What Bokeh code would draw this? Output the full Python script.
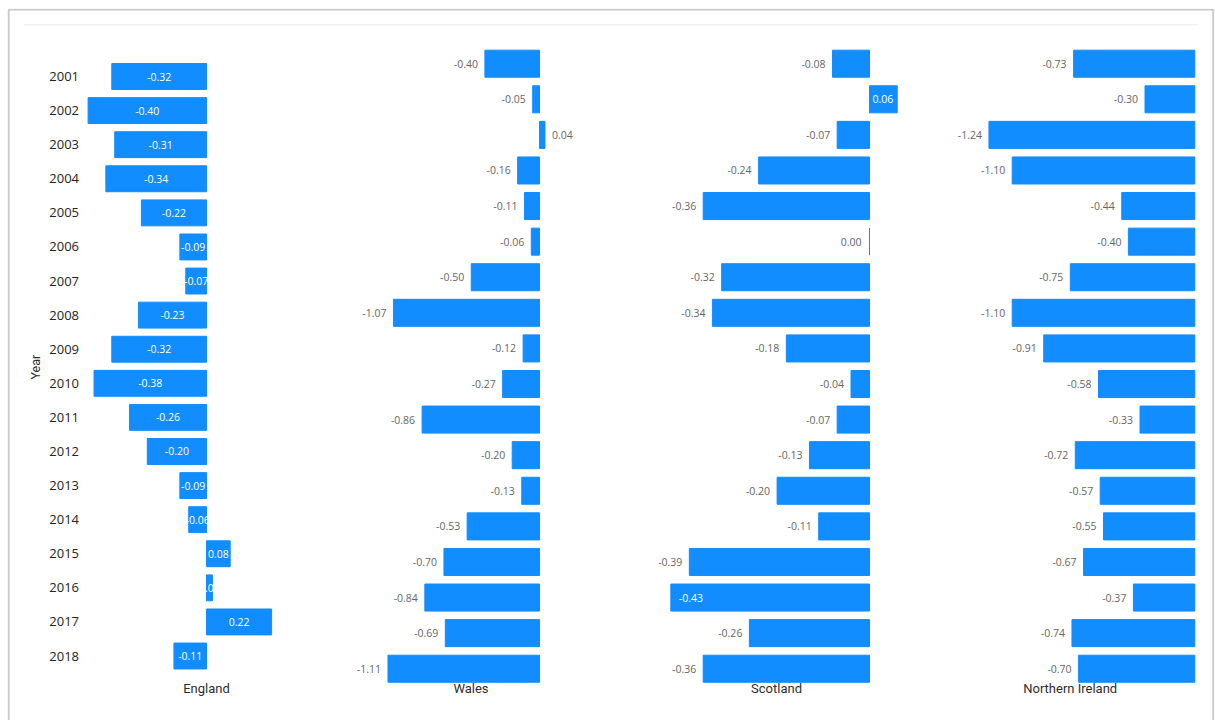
import math

from bokeh.core.properties import value
from bokeh.embed import file_html
from bokeh.models import ColumnDataSource, Range1d
from bokeh.plotting import figure
from bokeh.resources import INLINE

# ---- data -----------------------------------------------------------------
years = list(range(2001, 2019))

england = [-0.32, -0.40, -0.31, -0.34, -0.22, -0.09, -0.07, -0.23, -0.32,
           -0.38, -0.26, -0.20, -0.09, -0.06, 0.08, 0.02, 0.22, -0.11]
wales = [-0.40, -0.05, 0.04, -0.16, -0.11, -0.06, -0.50, -1.07, -0.12,
         -0.27, -0.86, -0.20, -0.13, -0.53, -0.70, -0.84, -0.69, -1.11]
scotland = [-0.08, 0.06, -0.07, -0.24, -0.36, 0.00, -0.32, -0.34, -0.18,
            -0.04, -0.07, -0.13, -0.20, -0.11, -0.39, -0.43, -0.26, -0.36]
northern_ireland = [-0.73, -0.30, -1.24, -1.10, -0.44, -0.40, -0.75, -1.10, -0.91,
                    -0.58, -0.33, -0.72, -0.57, -0.55, -0.67, -0.37, -0.74, -0.70]

nations = ["England", "Wales", "Scotland", "Northern Ireland"]
series = [england, wales, scotland, northern_ireland]

# ---- styling / layout -----------------------------------------------------
W, H = 1215, 720
TOP = 8                      # blank strip above the frame
BLUE = "#118DFF"
LABEL_GREY = "#666666"
TEXT_DARK = "#252423"
TITLE_GREY = "#2E2E2E"
LABEL_FONT = "Open Sans"
TITLE_FONT = "Roboto"
BAR_FRACTION = 0.76
LABEL_GAP = 7                # px between bar end and an outside label

# per panel: zero position (px), pixels per unit, panel extent (px),
# title centre (px), centre of the first row (px), row pitch (px), label mode
panel_layout = [
    dict(key="eng", zero=206.0, ppu=296.0, lo=85, hi=330, title_x=206.0,
         first_row=76.0, pitch=34.09, mode="center"),
    dict(key="wal", zero=539.0, ppu=136.5, lo=340, hi=600, title_x=470.5,
         first_row=63.2, pitch=35.59, mode="outside"),
    dict(key="sco", zero=869.0, ppu=462.0, lo=650, hi=900, title_x=776.0,
         first_row=63.2, pitch=35.59, mode="outside"),
    dict(key="ni", zero=1194.3, ppu=166.0, lo=945, hi=1205, title_x=1069.7,
         first_row=63.2, pitch=35.59, mode="outside"),
]
TITLE_Y = 688.3

p = figure(
    width=W, height=H,
    x_range=Range1d(0, W), y_range=Range1d(H, TOP),
    min_border_left=0, min_border_right=0, min_border_top=TOP, min_border_bottom=0,
    x_axis_location=None, y_axis_location=None,
    toolbar_location=None, output_backend="svg", title=None,
)
p.grid.visible = False
p.outline_line_color = None
p.background_fill_color = "white"
p.border_fill_color = "white"

# card border and the thin header rule
p.line(x=[8.2, 8.2, 1212.7, 1212.7], y=[H, 9.2, 9.2, H], line_color="#C8C8C8", line_width=1.8)
p.line(x=[23, 1197], y=[24.3, 24.3], line_color="#EBEBEB", line_width=1)

# every panel gets its own value axis and its own row placement
x_ranges, y_ranges = {}, {}
for pl in panel_layout:
    x_ranges[pl["key"]] = Range1d((0 - pl["zero"]) / pl["ppu"], (W - pl["zero"]) / pl["ppu"])
    first = years[0]
    y_ranges[pl["key"] + "_y"] = Range1d(
        start=first + (H - pl["first_row"]) / pl["pitch"],      # bottom of frame
        end=first - (pl["first_row"] - TOP) / pl["pitch"],      # top of frame
    )
p.extra_x_ranges = x_ranges
p.extra_y_ranges = y_ranges


def label_props(v, pl, text):
    """Placement of a value label: outside the bar end when it fits, inside otherwise."""
    end_px = pl["zero"] + v * pl["ppu"]
    est_w = 4.8 * len(text)
    if pl["mode"] == "center":
        return v / 2, "center", 0, "white"
    if v <= 0:
        if end_px - LABEL_GAP - est_w >= pl["lo"]:
            return v, "right", -LABEL_GAP - (1 if v == 0 else 0), LABEL_GREY
        return v, "left", LABEL_GAP + 1, "white"
    if end_px + LABEL_GAP + est_w <= pl["hi"]:
        return v, "left", LABEL_GAP, LABEL_GREY
    return v, "right", -4, "white"


for pl, name, vals in zip(panel_layout, nations, series):
    labels = [f"{v:.2f}" for v in vals]
    props = [label_props(v, pl, t) for v, t in zip(vals, labels)]
    src = ColumnDataSource(dict(
        year=years, value=vals, label=labels,
        lx=[a[0] for a in props], align=[a[1] for a in props],
        xoff=[a[2] for a in props], color=[a[3] for a in props],
    ))
    xr, yr = pl["key"], pl["key"] + "_y"
    p.hbar(y="year", left=0, right="value", height=BAR_FRACTION, source=src,
           fill_color=BLUE, line_color=BLUE, line_width=1,
           x_range_name=xr, y_range_name=yr)
    p.text(x="lx", y="year", text="label", source=src,
           text_align="align", x_offset="xoff", text_color="color",
           text_baseline="middle", text_font=value(LABEL_FONT), text_font_size="10.5px",
           x_range_name=xr, y_range_name=yr)

# category labels (years) beside the first panel
year_src = ColumnDataSource(dict(year=years, name=[str(y) for y in years], x=[78.5] * len(years)))
p.text(x="x", y="year", text="name", source=year_src, y_range_name="eng_y",
       text_align="right", text_baseline="middle", text_color=TEXT_DARK,
       text_font=value(LABEL_FONT), text_font_size="13px")

# panel titles and the category axis title
p.text(x=[pl["title_x"] for pl in panel_layout], y=[TITLE_Y] * 4, text=nations,
       text_align="center", text_baseline="middle", text_color=TITLE_GREY,
       text_font=value(TITLE_FONT), text_font_size="13px")
p.text(x=[34.7], y=[366.7], text=["Year"], angle=math.pi / 2,
       text_align="center", text_baseline="middle", text_color=TITLE_GREY,
       text_font=value(TITLE_FONT), text_font_size="12.5px")

open("out.html", "w").write(file_html(p, INLINE))
